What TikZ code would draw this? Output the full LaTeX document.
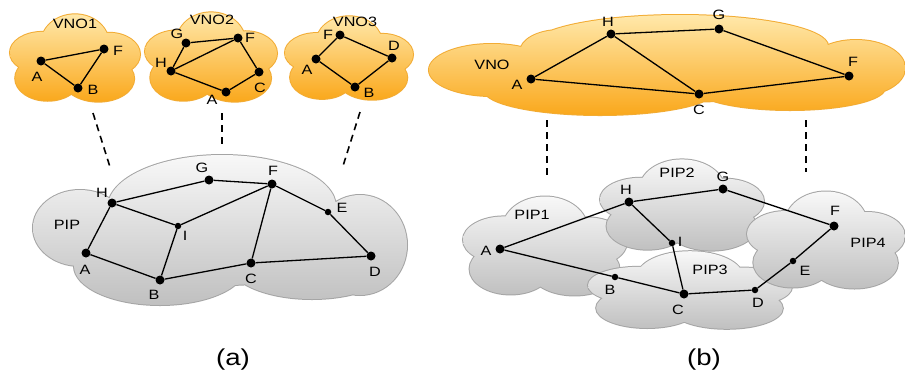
\documentclass[tikz,border=0pt]{standalone}
\usepackage{fontspec}
\setmainfont{Liberation Sans}
\newfontfamily\widesans[FakeStretch=1.2]{Liberation Sans}
\definecolor{orgtop}{RGB}{255,232,170}
\definecolor{orgbot}{RGB}{250,168,28}
\definecolor{orgline}{RGB}{242,172,52}
\definecolor{grytop}{RGB}{248,248,248}
\definecolor{grybot}{RGB}{192,192,192}
\definecolor{gryline}{RGB}{165,165,165}
% a cloud is a union of ellipses: stroke them all, then shade them all on top,
% so only the outer half of the stroke survives on the union's boundary
\newcommand\puffs[4]{%
  \path[draw=#1, line width=2pt] #4;
  \path[top color=#2, bottom color=#3] #4;}
% a generic cloud outline in unit coordinates (y pointing down)
\newcommand\cloudshape{%
  (0,-0.33) ellipse (0.52 and 0.64)
  (-0.5,-0.12) ellipse (0.5 and 0.46)
  (0.52,-0.08) ellipse (0.48 and 0.48)
  (-0.42,0.45) ellipse (0.5 and 0.5)
  (0.36,0.46) ellipse (0.55 and 0.51)
  (0,0.1) ellipse (0.75 and 0.6)}
\newcommand\stdcloud[7]{%
  \begin{scope}[shift={(#1,#2)}, x=#3pt, y=-#4pt]
    \puffs{#5}{#6}{#7}{\cloudshape}
  \end{scope}}
\begin{document}
\begin{tikzpicture}[x=1pt,y=-1pt,
  bigdot/.style={circle, fill=black, inner sep=0pt, minimum size=9pt},
  smalldot/.style={circle, fill=black, inner sep=0pt, minimum size=6.5pt},
  lbl/.style={font=\widesans\fontsize{13.5}{13.5}\selectfont, inner sep=0pt},
  captxt/.style={font=\widesans\fontsize{23}{23}\selectfont, inner sep=0pt},
  link/.style={line width=1.3pt},
  mapline/.style={line width=1.6pt, dash pattern=on 7pt off 5pt}]
\path[use as bounding box, fill=white] (0,0) rectangle (905,376);

% ---------- (a) ----------
% virtual networks
\stdcloud{75}{58}{65}{45}{orgline}{orgtop}{orgbot}
\stdcloud{211}{57}{66}{46}{orgline}{orgtop}{orgbot}
\stdcloud{349}{58}{64}{43}{orgline}{orgtop}{orgbot}
\node[lbl] (t1) at (75,24) {VNO1};
\node[lbl] (t2) at (212,20) {VNO2};
\node[lbl] (t3) at (355,22) {VNO3};

\node[bigdot] (a1A) at (41,61) {};
\node[bigdot] (a1F) at (104,49) {};
\node[bigdot] (a1B) at (78,88) {};
\node[lbl] at (37,77) {A};
\node[lbl] at (118,51) {F};
\node[lbl] at (93,90) {B};
\draw[link] (a1A) -- (a1F) -- (a1B) -- (a1A);

\node[bigdot] (a2G) at (186,43) {};
\node[bigdot] (a2F) at (238,38) {};
\node[bigdot] (a2H) at (171,71) {};
\node[bigdot] (a2A) at (226,92) {};
\node[bigdot] (a2C) at (259,72) {};
\node[lbl] at (177,34) {G};
\node[lbl] at (250,38) {F};
\node[lbl] at (161,63) {H};
\node[lbl] at (212,100) {A};
\node[lbl] at (260,88) {C};
\draw[link] (a2G) -- (a2F) -- (a2C) -- (a2A) -- (a2H) -- (a2G);
\draw[link] (a2H) -- (a2F);

\node[bigdot] (a3F) at (340,35) {};
\node[bigdot] (a3A) at (316,59) {};
\node[bigdot] (a3D) at (392,58) {};
\node[bigdot] (a3B) at (355,87) {};
\node[lbl] at (328,35) {F};
\node[lbl] at (307,70) {A};
\node[lbl] at (394,46) {D};
\node[lbl] at (369,93) {B};
\draw[link] (a3F) -- (a3A) -- (a3B) -- (a3D) -- (a3F);

% physical network
\puffs{gryline}{grytop}{grybot}{%
  (80,228) ellipse (47 and 38)
  (222,207) ellipse (114 and 52)
  (360,245) ellipse (47 and 50)
  (160,266) ellipse (86 and 39)
  (312,262) ellipse (84 and 37)
  (225,240) ellipse (125 and 45)}
\node[lbl] (tp) at (67,225) {PIP};

\coordinate (m1a) at (93,113);  \coordinate (m1b) at (110,167);
\coordinate (m2a) at (222,113); \coordinate (m2b) at (222,148);
\coordinate (m3a) at (360,112); \coordinate (m3b) at (343,166);
\draw[mapline] (m1a) -- (m1b);
\draw[mapline] (m2a) -- (m2b);
\draw[mapline] (m3a) -- (m3b);

\node[bigdot] (pH) at (112,203) {};
\node[bigdot] (pG) at (209,180) {};
\node[bigdot] (pF) at (272,184) {};
\node[smalldot] (pE) at (328,212) {};
\node[smalldot] (pI) at (178,226) {};
\node[bigdot] (pA) at (86,253) {};
\node[bigdot] (pB) at (160,280) {};
\node[bigdot] (pC) at (251,263) {};
\node[bigdot] (pD) at (371,256) {};
\node[lbl] at (102,193) {H};
\node[lbl] at (202,168) {G};
\node[lbl] at (273,171) {F};
\node[lbl] at (342,208) {E};
\node[lbl] at (185,236) {I};
\node[lbl] at (85,270) {A};
\node[lbl] at (154,295) {B};
\node[lbl] at (251,279) {C};
\node[lbl] at (375,272) {D};
\draw[link] (pA) -- (pH) -- (pG) -- (pF) -- (pE) -- (pD) -- (pC) -- (pB) -- (pA);
\draw[link] (pH) -- (pI) -- (pF);
\draw[link] (pI) -- (pB);
\draw[link] (pC) -- (pF);

\node[captxt] (capa) at (233,360) {(a)};

% ---------- (b) ----------
\puffs{orgline}{orgtop}{orgbot}{%
  (492,70) ellipse (63 and 26)
  (560,52) ellipse (40 and 22)
  (680,46) ellipse (148 and 31)
  (856,68) ellipse (49 and 28)
  (600,90) ellipse (116 and 25)
  (790,88) ellipse (95 and 22)
  (670,72) ellipse (180 and 30)}
\node[lbl] (tv) at (492,65) {VNO};
\node[bigdot] (bA) at (531,79) {};
\node[bigdot] (bH) at (611,34) {};
\node[bigdot] (bG) at (719,29) {};
\node[bigdot] (bF) at (849,76) {};
\node[bigdot] (bC) at (699,94) {};
\node[lbl] at (517,85) {A};
\node[lbl] at (608,22) {H};
\node[lbl] at (719,15) {G};
\node[lbl] at (853,62) {F};
\node[lbl] at (699,110) {C};
\draw[link] (bA) -- (bH) -- (bG) -- (bF) -- (bC) -- (bA);
\draw[link] (bH) -- (bC);

\coordinate (m4a) at (547,120); \coordinate (m4b) at (547,177);
\coordinate (m5a) at (806,120); \coordinate (m5b) at (806,172);
\draw[mapline] (m4a) -- (m4b);
\draw[mapline] (m5a) -- (m5b);

\stdcloud{545}{246}{82}{51}{gryline}{grytop}{grybot}
\stdcloud{682}{205}{82}{47}{gryline}{grytop}{grybot}
\stdcloud{690}{290}{102}{40}{gryline}{grytop}{grybot}
\stdcloud{826}{240}{79}{50}{gryline}{grytop}{grybot}
\node[lbl] (tp1) at (532,215) {PIP1};
\node[lbl] (tp2) at (677,173) {PIP2};
\node[lbl] (tp3) at (710,270) {PIP3};
\node[lbl] (tp4) at (868,243) {PIP4};

\node[bigdot] (qA) at (500,249) {};
\node[bigdot] (qH) at (629,202) {};
\node[bigdot] (qG) at (723,189) {};
\node[bigdot] (qF) at (834,226) {};
\node[smalldot] (qI) at (672,243) {};
\node[smalldot] (qB) at (615,277) {};
\node[bigdot] (qC) at (684,294) {};
\node[smalldot] (qD) at (755,290) {};
\node[smalldot] (qE) at (793,261) {};
\node[lbl] at (486,251) {A};
\node[lbl] at (626,190) {H};
\node[lbl] at (723,177) {G};
\node[lbl] at (835,211) {F};
\node[lbl] at (680,242) {I};
\node[lbl] at (610,290) {B};
\node[lbl] at (678,310) {C};
\node[lbl] at (758,303) {D};
\node[lbl] at (805,271) {E};
\draw[link] (qA) -- (qH) -- (qG) -- (qF) -- (qE) -- (qD) -- (qC) -- (qB) -- (qA);
\draw[link] (qH) -- (qI) -- (qC);

\node[captxt] (capb) at (704,360) {(b)};
\end{tikzpicture}
\end{document}
